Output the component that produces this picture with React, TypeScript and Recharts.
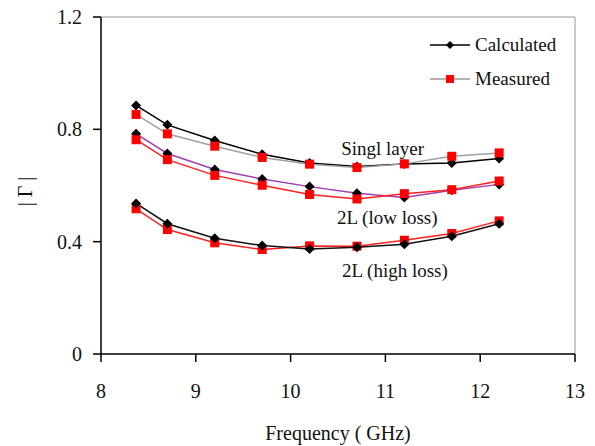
import React from 'react';
import { LineChart, Line, XAxis, YAxis, ReferenceLine, ReferenceDot, Label } from 'recharts';

// frequencies (GHz) and |Γ| readings for the three samples
const freqs = [8.37, 8.7, 9.2, 9.7, 10.2, 10.7, 11.2, 11.7, 12.2];
const singleCalc = [0.885, 0.816, 0.76, 0.711, 0.68, 0.668, 0.677, 0.68, 0.696];
const singleMeas = [0.853, 0.784, 0.74, 0.7, 0.676, 0.664, 0.677, 0.704, 0.716];
const lowCalc = [0.784, 0.714, 0.657, 0.623, 0.596, 0.572, 0.557, 0.583, 0.604];
const lowMeas = [0.763, 0.692, 0.636, 0.601, 0.568, 0.552, 0.571, 0.585, 0.616];
const highCalc = [0.536, 0.464, 0.412, 0.386, 0.374, 0.38, 0.391, 0.419, 0.464];
const highMeas = [0.517, 0.443, 0.396, 0.372, 0.385, 0.384, 0.405, 0.429, 0.474];

const xTicks = [8, 9, 10, 11, 12, 13];
const yTicks = [0, 0.4, 0.8, 1.2];

const notes = [
  { text: 'Singl layer', f: 10.97, v: 0.734 },
  { text: '2L (low loss)', f: 11.02, v: 0.488 },
  { text: '2L (high loss)', f: 11.1, v: 0.299 },
];

const data = freqs.map((f, i) => ({
  f,
  singleCalc: singleCalc[i],
  singleMeas: singleMeas[i],
  lowCalc: lowCalc[i],
  lowMeas: lowMeas[i],
  highCalc: highCalc[i],
  highMeas: highMeas[i],
}));

const FONT = 'Liberation Serif';

const diamond = (props: any) => {
  const { cx, cy, index } = props;
  const r = 5;
  return (
    <path
      key={`d-${index}`}
      d={`M${cx},${cy - r} L${cx + r},${cy} L${cx},${cy + r} L${cx - r},${cy} Z`}
      fill="#000"
    />
  );
};

const square = (props: any) => {
  const { cx, cy, index } = props;
  const s = 9;
  return <rect key={`s-${index}`} x={cx - s / 2} y={cy - s / 2} width={s} height={s} fill="#ff0000" />;
};

function LegendBox() {
  return (
    <div style={{ position: 'absolute', left: 430, top: 33, fontFamily: FONT, fontSize: 19, color: '#111' }}>
      <div style={{ display: 'flex', alignItems: 'center', height: 24 }}>
        <svg width={40} height={12} style={{ marginRight: 5 }}>
          <line x1={0} y1={6} x2={40} y2={6} stroke="#000" strokeWidth={1.5} />
          <path d="M20,2 L24,6 L20,10 L16,6 Z" fill="#000" />
        </svg>
        <span>Calculated</span>
      </div>
      <div style={{ display: 'flex', alignItems: 'center', height: 24, marginTop: 10 }}>
        <svg width={40} height={12} style={{ marginRight: 5 }}>
          <line x1={0} y1={6} x2={40} y2={6} stroke="#999" strokeWidth={1.5} />
          <rect x={16} y={2} width={8} height={8} fill="#ff0000" />
        </svg>
        <span>Measured</span>
      </div>
    </div>
  );
}

export default function App() {
  return (
    <div style={{ position: 'absolute', left: 0, top: 0, width: 595, height: 446, background: '#fff', fontFamily: FONT }}>
      <LineChart width={595} height={446} data={data} margin={{ top: 17, right: 20, bottom: 0, left: 0 }}>
        <XAxis
          type="number"
          dataKey="f"
          domain={[8, 13]}
          ticks={xTicks}
          height={92}
          tickSize={8}
          tickMargin={22}
          stroke="#000"
          strokeWidth={1.5}
          tick={{ fill: '#111', fontSize: 20, fontFamily: FONT }}
        >
          <Label
            value="Frequency ( GHz)"
            position="insideBottom"
            offset={6}
            style={{ fill: '#111', fontSize: 20, fontFamily: FONT }}
          />
        </XAxis>
        <YAxis
          type="number"
          domain={[0, 1.2]}
          ticks={yTicks}
          width={101}
          tickSize={8}
          tickMargin={11}
          stroke="#000"
          strokeWidth={1.5}
          tick={{ fill: '#111', fontSize: 20, fontFamily: FONT }}
        >
          <Label
            content={(props: any) => {
              const vb = props.viewBox || { x: 0, y: 17, height: 337 };
              const cx = 25;
              const cy = vb.y + vb.height / 2 + 6;
              return (
                <text
                  transform={`translate(${cx},${cy}) rotate(-90)`}
                  textAnchor="middle"
                  dominantBaseline="central"
                  fill="#111"
                  fontSize={20}
                  fontFamily={FONT}
                >
                  | Γ |
                </text>
              );
            }}
          />
        </YAxis>
        <ReferenceLine y={1.2} stroke="#999" strokeWidth={1} />
        <ReferenceLine x={13} stroke="#999" strokeWidth={1} />

        <Line dataKey="singleCalc" stroke="#000" strokeWidth={1.5} dot={diamond} isAnimationActive={false} />
        <Line dataKey="singleMeas" stroke="#a0a0a0" strokeWidth={1.5} dot={square} isAnimationActive={false} />
        <Line dataKey="lowCalc" stroke="#a040b0" strokeWidth={1.5} dot={diamond} isAnimationActive={false} />
        <Line dataKey="lowMeas" stroke="#ff2020" strokeWidth={1.5} dot={square} isAnimationActive={false} />
        <Line dataKey="highMeas" stroke="#ff2020" strokeWidth={1.5} dot={square} isAnimationActive={false} />
        <Line dataKey="highCalc" stroke="#111" strokeWidth={1.5} dot={diamond} isAnimationActive={false} />

        {notes.map((n) => (
          <ReferenceDot
            key={n.text}
            x={n.f}
            y={n.v}
            r={0}
            fill="none"
            stroke="none"
            label={{
              value: n.text,
              position: 'center',
              fill: '#111',
              fontSize: 19,
              fontFamily: FONT,
            }}
          />
        ))}
      </LineChart>
      <LegendBox />
    </div>
  );
}
